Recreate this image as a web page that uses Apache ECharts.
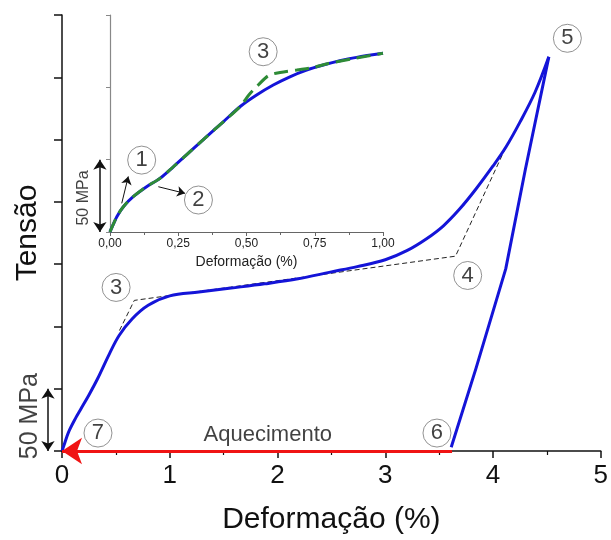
<!DOCTYPE html>
<html>
<head>
<meta charset="utf-8">
<script src="https://cdn.jsdelivr.net/npm/echarts@6/dist/echarts.min.js"></script>
<style>
html,body{margin:0;padding:0;background:#fff;}
#chart{width:611px;height:540px;}
</style>
</head>
<body>
<div id="chart"></div>
<script>
// ---- Data (strain %, stress MPa) ----
const mainTicksX = [0, 1, 2, 3, 4, 5];
const insetTicksX = [0, 0.25, 0.5, 0.75, 1.0];

const loadingCurve = [
  [0, 0], [0.02, 5], [0.06, 15], [0.13, 27], [0.17, 33], [0.25, 45], [0.33, 58],
  [0.44, 78], [0.53, 92.7], [0.65, 106], [0.8, 117], [1.0, 124.5], [1.27, 127.6],
  [1.57, 130.8], [1.88, 134.2], [2.19, 138.2], [2.49, 143.6], [2.74, 148],
  [3.0, 153.5], [3.2, 160.8], [3.38, 170.2], [3.54, 180.8], [3.69, 194.2],
  [3.84, 210.1], [4.0, 228.8], [4.12, 244], [4.25, 264], [4.39, 288], [4.518, 316.4]
];
const unloadingCurve = [
  [4.518, 316.4], [4.30, 226], [4.118, 146.2], [3.842, 66.3], [3.612, 3]
];
const dashedGuide = [[0.533, 96.7], [0.671, 120.9], [3.652, 156.4], [4.102, 240.7]];
const heatingArrow = [[3.62, 0], [0, 0]];
const mainScaleBar = [[-0.13, 0], [-0.13, 50]];

const insetBlue = [
  [0, 0], [0.003, 1.4], [0.025, 10.6], [0.049, 17.5], [0.085, 24.4], [0.134, 31.3],
  [0.183, 37.1], [0.232, 45.1], [0.293, 55.5], [0.354, 65.9], [0.415, 76.2],
  [0.476, 86.6], [0.537, 94.7], [0.598, 101.6], [0.659, 107.3], [0.72, 111.9],
  [0.781, 115.4], [0.842, 118.4], [0.903, 120.7], [1.0, 123.5]
];
const insetGreen = [
  [0, 0], [0.003, 1.4], [0.025, 10.6], [0.049, 17.5], [0.085, 24.4], [0.134, 31.3],
  [0.183, 37.1], [0.232, 45.1], [0.293, 55.5], [0.354, 65.9], [0.415, 76.2],
  [0.476, 86.6], [0.51, 95], [0.545, 102], [0.58, 108], [0.623, 110.3],
  [0.684, 112], [0.74, 113.5], [0.8, 116.5], [0.9, 120.2], [1.0, 123.5]
];
const insetArrow1 = [[0.043, 19.8], [0.067, 38.4]];
const insetArrow2 = [[0.177, 31.3], [0.275, 26.7]];
const insetScaleBar = [[-0.037, 0], [-0.037, 50]];

const mainMarkers = [
  {name: '3', value: [0.502, 131.3]},
  {name: '4', value: [3.765, 140.9]},
  {name: '5', value: [4.69, 331.3]},
  {name: '6', value: [3.48, 14.4]},
  {name: '7', value: [0.334, 14.4]}
];
const insetMarkers = [
  {name: '1', value: [0.116, 49.7]},
  {name: '2', value: [0.324, 22.1]},
  {name: '3', value: [0.561, 124.6]}
];
const mainTexts = [
  {name: 'Aquecimento', value: [1.91, 12.8], size: 22, rotate: 0},
  {name: '50 MPa', value: [-0.3, 28], size: 25, rotate: 90}
];
const insetTexts = [
  {name: '50 MPa', value: [-0.098, 23.5], size: 16, rotate: 90}
];

const FONT = 'Liberation Sans, Arial, sans-serif';
const chart = echarts.init(document.getElementById('chart'));

function textSeries(items, xi) {
  return {
    type: 'scatter', xAxisIndex: xi, yAxisIndex: xi, clip: false, z: 10,
    symbolSize: 1, itemStyle: {color: 'transparent'},
    data: items.map(t => ({name: t.name, value: t.value,
      label: {show: true, position: 'inside', formatter: t.name, fontSize: t.size,
        rotate: t.rotate, color: '#111', fontFamily: FONT}})),
    silent: true
  };
}
function markerSeries(items, xi) {
  return {
    type: 'scatter', xAxisIndex: xi, yAxisIndex: xi, clip: false, z: 12,
    symbol: 'circle', symbolSize: 28,
    itemStyle: {color: '#fff', borderColor: '#777', borderWidth: 1},
    label: {show: true, position: 'inside', formatter: '{b}', fontSize: 22, color: '#111', fontFamily: FONT},
    data: items
  };
}
function arrowSeries(coords, xi, symbols, size, color, width) {
  return {
    type: 'lines', coordinateSystem: 'cartesian2d', xAxisIndex: xi, yAxisIndex: xi,
    clip: false, z: 11, symbol: symbols, symbolSize: size,
    lineStyle: {color: color, width: width, opacity: 1},
    data: [{coords: coords}]
  };
}

chart.setOption({
  animation: false,
  backgroundColor: '#fff',
  grid: [
    {left: 62, top: 15, width: 544, height: 438},
    {left: 110, top: 15, width: 273, height: 217}
  ],
  xAxis: [
    {
      type: 'value', gridIndex: 0, min: mainTicksX[0], max: mainTicksX[mainTicksX.length - 1], interval: 1,
      name: 'Deformação (%)', nameLocation: 'middle', nameGap: 54,
      nameTextStyle: {fontSize: 30, color: '#111', fontFamily: FONT},
      axisLine: {onZero: false, lineStyle: {color: '#111', width: 1.5}},
      axisTick: {length: 7, lineStyle: {color: '#111', width: 1.5}},
      minorTick: {show: true, splitNumber: 2, length: 4, lineStyle: {color: '#111', width: 1.2}},
      splitLine: {show: false},
      axisLabel: {fontSize: 26, color: '#111', margin: 12, fontFamily: FONT, showMaxLabel: true}
    },
    {
      type: 'value', gridIndex: 1, min: insetTicksX[0], max: insetTicksX[insetTicksX.length - 1], interval: 0.25,
      name: 'Deformação (%)', nameLocation: 'middle', nameGap: 23,
      nameTextStyle: {fontSize: 14, color: '#222', fontFamily: FONT},
      axisLine: {onZero: false, lineStyle: {color: '#666', width: 1.2}},
      axisTick: {length: 4, lineStyle: {color: '#666'}},
      minorTick: {show: true, splitNumber: 2, length: 3, lineStyle: {color: '#666'}},
      splitLine: {show: false},
      axisLabel: {fontSize: 12, color: '#222', margin: 6, fontFamily: FONT,
        formatter: v => v.toFixed(2).replace('.', ',')}
    }
  ],
  yAxis: [
    {
      type: 'value', gridIndex: 0, min: 0, max: 350, interval: 50,
      name: 'Tensão', nameLocation: 'middle', nameGap: 19,
      nameTextStyle: {fontSize: 30, color: '#111', fontFamily: FONT},
      axisLine: {show: true, onZero: false, lineStyle: {color: '#111', width: 1.5}},
      axisTick: {show: true, length: 8, lineStyle: {color: '#111', width: 1.5}},
      splitLine: {show: false},
      axisLabel: {show: false}
    },
    {
      type: 'value', gridIndex: 1, min: 0, max: 150, interval: 50,
      axisLine: {show: true, onZero: false, lineStyle: {color: '#888', width: 1.2}},
      axisTick: {show: true, length: 4, lineStyle: {color: '#888'}},
      splitLine: {show: false},
      axisLabel: {show: false}
    }
  ],
  series: [
    {type: 'line', xAxisIndex: 0, yAxisIndex: 0, data: dashedGuide, showSymbol: false, z: 2,
      lineStyle: {color: '#222', width: 1, type: [5, 3]}},
    {type: 'line', xAxisIndex: 0, yAxisIndex: 0, data: loadingCurve, showSymbol: false, smooth: 0.35, z: 3,
      lineStyle: {color: '#1414d8', width: 3}},
    {type: 'line', xAxisIndex: 0, yAxisIndex: 0, data: unloadingCurve, showSymbol: false, smooth: false, z: 3,
      lineStyle: {color: '#1414d8', width: 3, join: 'round'}},
    arrowSeries(heatingArrow, 0, ['none', 'arrow'], [0, 20], '#f01414', 3),
    arrowSeries(mainScaleBar, 0, ['arrow', 'arrow'], 10, '#111', 1.5),
    {type: 'line', xAxisIndex: 1, yAxisIndex: 1, data: insetBlue, showSymbol: false, smooth: 0.3, z: 3,
      lineStyle: {color: '#1414d8', width: 3}},
    {type: 'line', xAxisIndex: 1, yAxisIndex: 1, data: insetGreen, showSymbol: false, smooth: 0.3, z: 4,
      lineStyle: {color: '#2e8b36', width: 3, type: [14, 7]}},
    arrowSeries(insetArrow1, 1, ['none', 'arrow'], 8, '#111', 1),
    arrowSeries(insetArrow2, 1, ['none', 'arrow'], 8, '#111', 1),
    arrowSeries(insetScaleBar, 1, ['arrow', 'arrow'], 10, '#111', 1.5),
    markerSeries(mainMarkers, 0),
    markerSeries(insetMarkers, 1),
    textSeries(mainTexts, 0),
    textSeries(insetTexts, 1)
  ]
});
</script>
</body>
</html>
